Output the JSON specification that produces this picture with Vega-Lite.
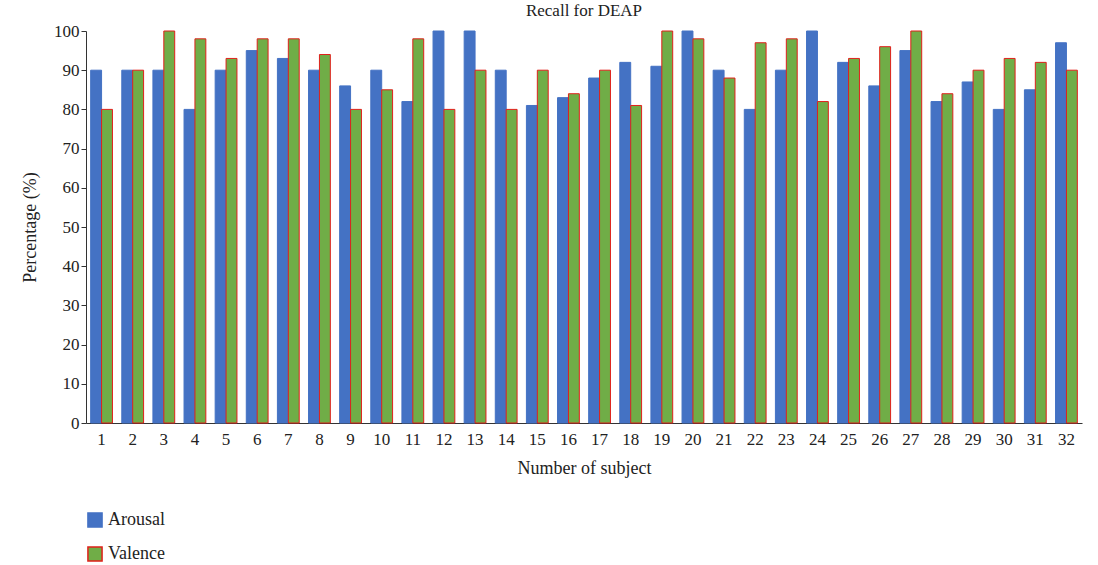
{
  "$schema": "https://vega.github.io/schema/vega-lite/v6.json",
  "autosize": "none",
  "padding": {"left": 86, "top": 31, "right": 16, "bottom": 142},
  "width": 996,
  "height": 392,
  "config": {
    "font": "Liberation Serif",
    "view": {"stroke": null},
    "axis": {"labelFont": "Liberation Serif", "titleFont": "Liberation Serif", "labelFontSize": 17, "titleFontSize": 18, "titleFontWeight": "normal", "labelColor": "#222", "titleColor": "#222", "grid": false, "domainColor": "#333", "tickColor": "#333"}
  },
  "title": {"text": "Recall for DEAP", "fontSize": 17, "fontWeight": "normal", "font": "Liberation Serif", "offset": 2, "color": "#222"},
  "data": {"values": [
    {"s":1,"m":"Arousal","v":90},{"s":1,"m":"Valence","v":80},
    {"s":2,"m":"Arousal","v":90},{"s":2,"m":"Valence","v":90},
    {"s":3,"m":"Arousal","v":90},{"s":3,"m":"Valence","v":100},
    {"s":4,"m":"Arousal","v":80},{"s":4,"m":"Valence","v":98},
    {"s":5,"m":"Arousal","v":90},{"s":5,"m":"Valence","v":93},
    {"s":6,"m":"Arousal","v":95},{"s":6,"m":"Valence","v":98},
    {"s":7,"m":"Arousal","v":93},{"s":7,"m":"Valence","v":98},
    {"s":8,"m":"Arousal","v":90},{"s":8,"m":"Valence","v":94},
    {"s":9,"m":"Arousal","v":86},{"s":9,"m":"Valence","v":80},
    {"s":10,"m":"Arousal","v":90},{"s":10,"m":"Valence","v":85},
    {"s":11,"m":"Arousal","v":82},{"s":11,"m":"Valence","v":98},
    {"s":12,"m":"Arousal","v":100},{"s":12,"m":"Valence","v":80},
    {"s":13,"m":"Arousal","v":100},{"s":13,"m":"Valence","v":90},
    {"s":14,"m":"Arousal","v":90},{"s":14,"m":"Valence","v":80},
    {"s":15,"m":"Arousal","v":81},{"s":15,"m":"Valence","v":90},
    {"s":16,"m":"Arousal","v":83},{"s":16,"m":"Valence","v":84},
    {"s":17,"m":"Arousal","v":88},{"s":17,"m":"Valence","v":90},
    {"s":18,"m":"Arousal","v":92},{"s":18,"m":"Valence","v":81},
    {"s":19,"m":"Arousal","v":91},{"s":19,"m":"Valence","v":100},
    {"s":20,"m":"Arousal","v":100},{"s":20,"m":"Valence","v":98},
    {"s":21,"m":"Arousal","v":90},{"s":21,"m":"Valence","v":88},
    {"s":22,"m":"Arousal","v":80},{"s":22,"m":"Valence","v":97},
    {"s":23,"m":"Arousal","v":90},{"s":23,"m":"Valence","v":98},
    {"s":24,"m":"Arousal","v":100},{"s":24,"m":"Valence","v":82},
    {"s":25,"m":"Arousal","v":92},{"s":25,"m":"Valence","v":93},
    {"s":26,"m":"Arousal","v":86},{"s":26,"m":"Valence","v":96},
    {"s":27,"m":"Arousal","v":95},{"s":27,"m":"Valence","v":100},
    {"s":28,"m":"Arousal","v":82},{"s":28,"m":"Valence","v":84},
    {"s":29,"m":"Arousal","v":87},{"s":29,"m":"Valence","v":90},
    {"s":30,"m":"Arousal","v":80},{"s":30,"m":"Valence","v":93},
    {"s":31,"m":"Arousal","v":85},{"s":31,"m":"Valence","v":92},
    {"s":32,"m":"Arousal","v":97},{"s":32,"m":"Valence","v":90}
  ]},
  "mark": {"type": "bar", "strokeWidth": 1},
  "encoding": {
    "x": {"field": "s", "type": "ordinal", "title": "Number of subject", "scale": {"paddingInner": 0.3, "paddingOuter": 0.15}, "axis": {"labelAngle": 0, "ticks": false, "labelPadding": 8, "titlePadding": 12}},
    "xOffset": {"field": "m", "type": "nominal"},
    "y": {"field": "v", "type": "quantitative", "title": "Percentage (%)", "scale": {"domain": [0, 100]}, "axis": {"values": [0,10,20,30,40,50,60,70,80,90,100], "tickSize": 5, "titlePadding": 14}},
    "color": {"field": "m", "type": "nominal", "title": null, "scale": {"range": ["#4472C4", "#70AD47"]},
      "legend": {"orient": "none", "legendX": 0, "legendY": 480, "symbolType": "square", "symbolSize": 200, "labelFontSize": 18, "labelFont": "Liberation Serif", "rowPadding": 12, "labelColor": "#222"}},
    "stroke": {"field": "m", "type": "nominal", "title": null, "scale": {"range": ["#4472C4", "#E0201B"]}}
  }
}
